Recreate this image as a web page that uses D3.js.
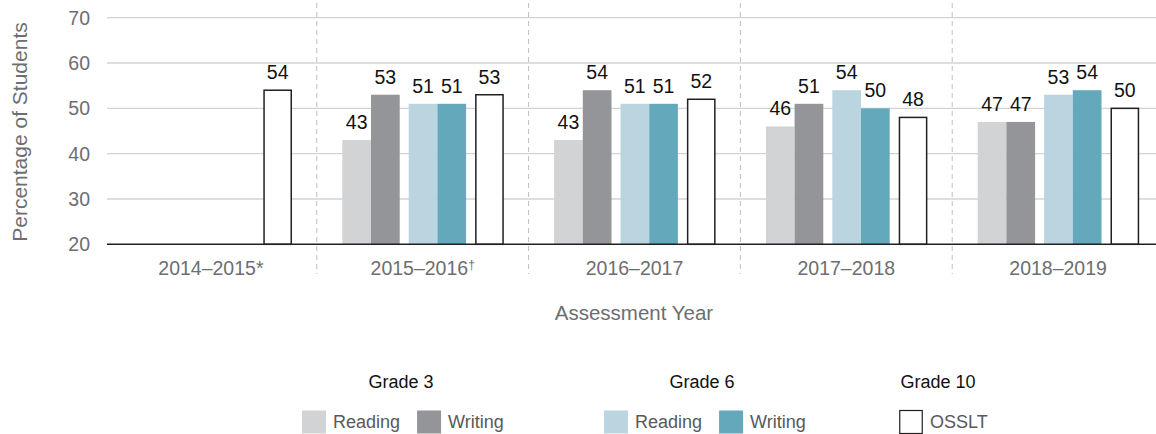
<!DOCTYPE html>
<html lang="en">
<head>
    <meta charset="UTF-8">
    <title>Percentage of Students by Assessment Year</title>
    <style>
        body { margin: 0; background: #fff; }
        text { font-family: "Liberation Sans", Arial, sans-serif; }
    </style>
</head>
<script src="https://d3js.org/d3.v7.min.js" charset="UTF-8"></script>
<body>
<script>
    // chart data
    var years = ["2014–2015", "2015–2016", "2016–2017", "2017–2018", "2018–2019"];
    var yearMarks = ["*", "†", "", "", ""];
    var g3Reading = [null, 43, 43, 46, 47];
    var g3Writing = [null, 53, 54, 51, 47];
    var g6Reading = [null, 51, 51, 54, 53];
    var g6Writing = [null, 51, 51, 50, 54];
    var osslt = [54, 53, 52, 48, 50];
    var yTicks = [20, 30, 40, 50, 60, 70];

    var series = [
        {key: "g3r", grade: 0, values: g3Reading, fill: "#d1d3d4", stroke: "none"},
        {key: "g3w", grade: 0, values: g3Writing, fill: "#939598", stroke: "none"},
        {key: "g6r", grade: 1, values: g6Reading, fill: "#bbd5e0", stroke: "none"},
        {key: "g6w", grade: 1, values: g6Writing, fill: "#63a8bb", stroke: "none"},
        {key: "g10", grade: 2, values: osslt, fill: "#ffffff", stroke: "#231f20"}
    ];

    var width = 1156, height = 434;
    var svg = d3.select("body")
        .append("svg")
        .attr("width", width)
        .attr("height", height);

    var x0 = d3.scaleBand().domain(years).range([105, 1164]);
    var gap = 0.314; // gap between grade clusters, in bar widths
    var xIn = d3.scaleLinear().domain([0, 5 + 2 * gap]).range([25.5, 187]);
    var barW = xIn(1) - xIn(0);
    var y = d3.scaleLinear().domain([20, 70]).range([244.3, 17.7]);

    // gridlines
    svg.append("g")
        .selectAll("line")
        .data(yTicks.slice(1))
        .join("line")
        .attr("x1", 107).attr("x2", width)
        .attr("y1", d => y(d)).attr("y2", d => y(d))
        .attr("stroke", "#d1d3d4")
        .attr("stroke-width", 1.3);

    // dashed separators between years
    svg.append("g")
        .selectAll("line")
        .data(years.slice(1))
        .join("line")
        .attr("x1", d => x0(d)).attr("x2", d => x0(d))
        .attr("y1", 3).attr("y2", 274)
        .attr("stroke", "#bcbec0")
        .attr("stroke-width", 1)
        .attr("stroke-dasharray", "5,4");

    // y axis labels
    svg.append("g")
        .selectAll("text")
        .data(yTicks)
        .join("text")
        .attr("x", 90)
        .attr("y", d => y(d))
        .attr("dy", "0.36em")
        .attr("text-anchor", "end")
        .attr("font-size", "19.5px")
        .attr("fill", "#6d6e71")
        .text(d => d);

    // bars
    var bars = [];
    series.forEach(function (s, si) {
        s.values.forEach(function (v, i) {
            if (v == null) return;
            bars.push({year: years[i], value: v, pos: si + s.grade * gap, s: s});
        });
    });

    svg.append("g")
        .selectAll("rect")
        .data(bars)
        .join("rect")
        .attr("x", d => x0(d.year) + xIn(d.pos) + (d.s.stroke != "none" ? 0.75 : 0))
        .attr("y", d => y(d.value))
        .attr("width", d => barW - (d.s.stroke != "none" ? 1.5 : 0))
        .attr("height", d => y(20) - y(d.value))
        .attr("fill", d => d.s.fill)
        .attr("stroke", d => d.s.stroke)
        .attr("stroke-width", 1.5);

    svg.append("g")
        .selectAll("text")
        .data(bars)
        .join("text")
        .attr("x", d => x0(d.year) + xIn(d.pos) + barW / 2)
        .attr("y", d => y(d.value) - 11)
        .attr("text-anchor", "middle")
        .attr("font-size", "19.5px")
        .attr("fill", "#111")
        .text(d => d.value);

    // baseline
    svg.append("line")
        .attr("x1", 107).attr("x2", width)
        .attr("y1", y(20)).attr("y2", y(20))
        .attr("stroke", "#231f20")
        .attr("stroke-width", 1.5);

    // x labels
    var xl = svg.append("g")
        .selectAll("text")
        .data(years)
        .join("text")
        .attr("x", d => x0(d) + x0.bandwidth() / 2)
        .attr("y", 275)
        .attr("text-anchor", "middle")
        .attr("font-size", "19.5px")
        .attr("fill", "#6d6e71");
    xl.append("tspan").text(d => d);
    xl.append("tspan")
        .attr("font-size", (d, i) => yearMarks[i] == "†" ? "12px" : "19.5px")
        .attr("dy", (d, i) => yearMarks[i] == "†" ? -6 : 0)
        .text((d, i) => yearMarks[i]);

    // axis titles
    svg.append("text")
        .attr("transform", "translate(27,132) rotate(-90)")
        .attr("text-anchor", "middle")
        .attr("font-size", "21px")
        .attr("fill", "#6d6e71")
        .text("Percentage of Students");

    svg.append("text")
        .attr("x", 634)
        .attr("y", 320)
        .attr("text-anchor", "middle")
        .attr("font-size", "20.5px")
        .attr("fill", "#6d6e71")
        .text("Assessment Year");

    // legend
    var legendGroups = [
        {title: "Grade 3", x: 302, tx: 401, items: [{label: "Reading", s: series[0]}, {label: "Writing", s: series[1]}]},
        {title: "Grade 6", x: 604, tx: 702, items: [{label: "Reading", s: series[2]}, {label: "Writing", s: series[3]}]},
        {title: "Grade 10", x: 899, tx: 938, items: [{label: "OSSLT", s: series[4]}]}
    ];

    legendGroups.forEach(function (g) {
        var lg = svg.append("g").attr("transform", "translate(" + g.x + ",0)");
        var cx = 0;
        g.items.forEach(function (it) {
            lg.append("rect")
                .attr("x", cx + (it.s.stroke != "none" ? 0.75 : 0))
                .attr("y", 410.5)
                .attr("width", 24 - (it.s.stroke != "none" ? 1.5 : 0))
                .attr("height", 23)
                .attr("fill", it.s.fill)
                .attr("stroke", it.s.stroke)
                .attr("stroke-width", 1.2);
            var t = lg.append("text")
                .attr("x", cx + 31)
                .attr("y", 428)
                .attr("font-size", "18px")
                .attr("fill", "#58595b")
                .text(it.label);
            cx += 31 + t.node().getComputedTextLength() + 17;
        });
        svg.append("text")
            .attr("x", g.tx)
            .attr("y", 388)
            .attr("text-anchor", "middle")
            .attr("font-size", "18px")
            .attr("fill", "#111")
            .text(g.title);
    });
</script>
</body>
</html>
